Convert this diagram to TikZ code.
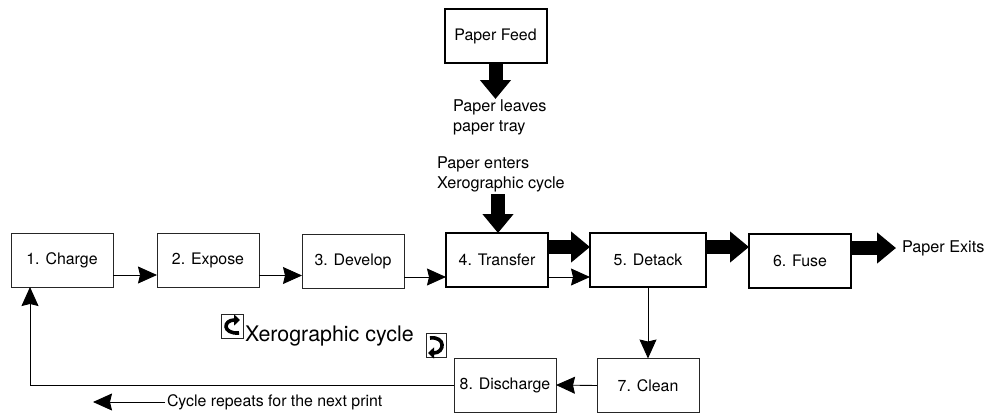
\documentclass[tikz,border=0pt]{standalone}
\usepackage{fontspec}
\setmainfont{TeX Gyre Heros}
\usetikzlibrary{arrows.meta}

\tikzset{
    stage/.style={draw=black!85, line width=0.9pt, minimum width=102pt, minimum height=54pt, inner sep=0pt, outer sep=0pt, font=\fontsize{15.9}{18}\selectfont},
    paperstage/.style={stage, draw=black, line width=2pt},
    label/.style={inner sep=0pt, outer sep=0pt, align=left, font=\fontsize{16.2}{19.5}\selectfont},
    thinarrow/.style={line width=0.9pt, -{Stealth[length=19pt, width=17pt, inset=2pt]}},
    paperarrow/.style={line width=14pt, -{Triangle[length=19pt, width=30pt]}},
    iconbox/.style={draw=black!85, line width=0.8pt, inner sep=0pt, outer sep=0pt},
    iconarrow/.style={line width=3.6pt, -{Triangle[length=6pt, width=11pt]}},
}

\begin{document}
\begin{tikzpicture}[x=1pt, y=-1pt]
    \useasboundingbox (0,0) rectangle (987,413);
    % cycle stages
    \node[stage] (charge) at (62,260) {1. Charge};
    \node[stage] (expose) at (208,260) {2. Expose};
    \node[stage] (develop) at (353,261) {3. Develop};
    \node[paperstage] (transfer) at (497,260) {4. Transfer};
    \node[paperstage, minimum width=116pt] (detack) at (648,260) {5. Detack};
    \node[paperstage] (fuse) at (800,260.5) {6. Fuse};
    \node[stage] (clean) at (648,385.5) {7. Clean};
    \node[stage] (discharge) at (505,385) {8. Discharge};
    % paper tray
    \node[paperstage] (feed) at (495.5,36) {Paper Feed};
    % labels
    \node[label, anchor=north west] (leaves) at (453,100) {Paper leaves\\paper tray};
    \node[label, anchor=north west] (enters) at (437,157) {Paper enters\\Xerographic cycle};
    \node[label, anchor=west] (exits) at (902,248) {Paper Exits};
    \node[label, anchor=west, font=\fontsize{15.9}{18}\selectfont] (repeats) at (167,402) {Cycle repeats for the next print};
    \node[label, anchor=west, font=\fontsize{21.4}{24}\selectfont] (cycle) at (245,336) {Xerographic cycle};
    % direction icons
    \node[iconbox, minimum width=22pt, minimum height=24pt] (iconleft) at (232,326) {};
    \node[iconbox, minimum width=20pt, minimum height=24pt] (iconright) at (436,345) {};
    \draw[iconarrow] ([shift={(7,7)}]iconleft.center) .. controls ([shift={(-10,8)}]iconleft.center) and ([shift={(-9,-6)}]iconleft.center) .. ([shift={(8,-6)}]iconleft.center);
    \draw[iconarrow] ([shift={(-6,-7)}]iconright.center) .. controls ([shift={(10,-9)}]iconright.center) and ([shift={(9,8)}]iconright.center) .. ([shift={(-8,8)}]iconright.center);
    % thin arrows
    \draw[thinarrow] ([yshift=-15pt]charge.east) -- ([yshift=-15pt]expose.west);
    \draw[thinarrow] ([yshift=-15.5pt]expose.east) -- ([yshift=-15.5pt]expose.east -| develop.west);
    \draw[thinarrow] ([yshift=-16pt]develop.east) -- ([yshift=-16pt]develop.east -| transfer.west);
    \draw[thinarrow] ([yshift=-17pt]transfer.east) -- ([yshift=-17pt]transfer.east -| detack.west);
    \draw[thinarrow] (detack.south) -- (clean.north);
    \draw[thinarrow] (clean.west) -- (discharge.east);
    \draw[thinarrow] (discharge.west) -| ([xshift=-32pt]charge.south);
    \coordinate (repeatsend) at (93,402);
    \draw[thinarrow] ([xshift=-2pt]repeats.west) -- (repeatsend);
    % paper path
    \coordinate (entertop) at (498,194);
    \coordinate (exittip) at (896,248);
    \draw[paperarrow] (feed.south) -- ++(0,36);
    \draw[paperarrow] (entertop) -- (entertop |- transfer.north);
    \draw[paperarrow] ([yshift=13pt]transfer.east) -- ([yshift=13pt]transfer.east -| detack.west);
    \draw[paperarrow] ([yshift=13pt]detack.east) -- ([yshift=13pt]detack.east -| fuse.west);
    \draw[paperarrow] (fuse.east |- exittip) -- (exittip);
\end{tikzpicture}
\end{document}
